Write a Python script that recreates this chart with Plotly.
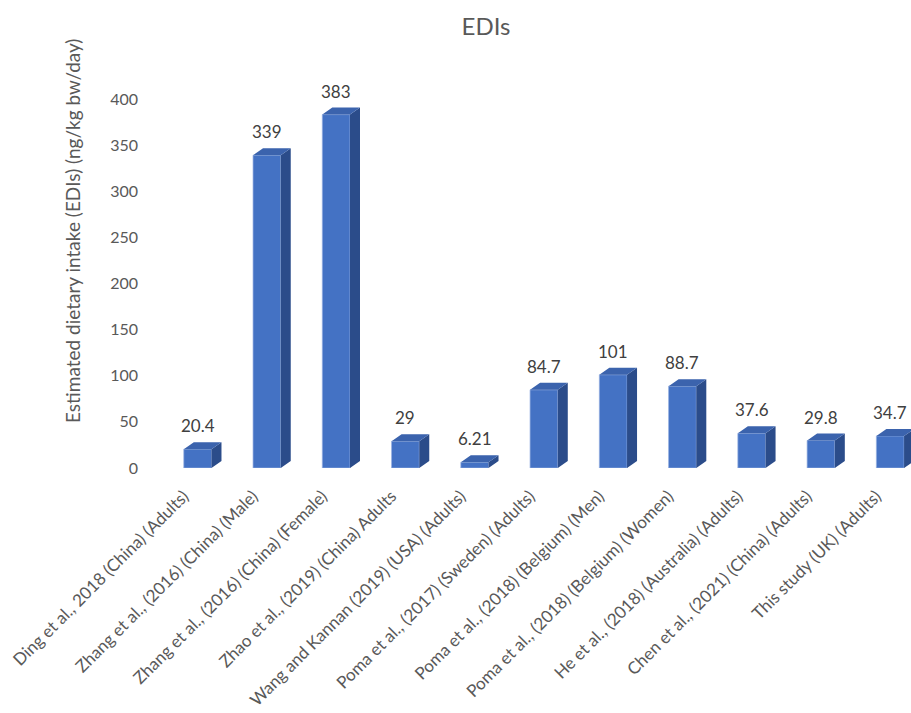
import plotly.graph_objects as go

# Studies and their estimated dietary intakes (ng/kg bw/day)
studies = [
    "Ding et al., 2018 (China) (Adults)",
    "Zhang et al., (2016) (China) (Male)",
    "Zhang et al., (2016) (China) (Female)",
    "Zhao et al., (2019) (China) Adults",
    "Wang and Kannan (2019) (USA) (Adults)",
    "Poma et al., (2017) (Sweden) (Adults)",
    "Poma et al., (2018) (Belgium) (Men)",
    "Poma et al., (2018) (Belgium) (Women)",
    "He et al., (2018) (Australia) (Adults)",
    "Chen et al., (2021) (China) (Adults)",
    "This study (UK) (Adults)",
]
edi_values = [20.4, 339, 383, 29, 6.21, 84.7, 101, 88.7, 37.6, 29.8, 34.7]
value_labels = ["20.4", "339", "383", "29", "6.21", "84.7", "101", "88.7", "37.6", "29.8", "34.7"]
y_ticks = [0, 50, 100, 150, 200, 250, 300, 350, 400]

FONT = "Lato"
FRONT = "#4472C4"
TOP = "#3B63AD"
SIDE = "#2B4C8A"

W = 911
H = 713
M_LEFT, M_RIGHT, M_TOP, M_BOT = 163, 0, 62, 245
Y_MAX = 440
X_MIN, X_MAX = -0.5, 10.3

px_per_cat = (W - M_LEFT - M_RIGHT) / (X_MAX - X_MIN)
px_per_unit = (H - M_TOP - M_BOT) / Y_MAX

bar_w = 0.4                      # front face width (category units)
dx = 10 / px_per_cat             # depth offset to the right
dy = 7 / px_per_unit             # depth offset upwards

xs = list(range(len(studies)))

# Side and top faces of the 3D columns, built from the data values
side_x, side_y, top_x, top_y = [], [], [], []
for i, v in zip(xs, edi_values):
    r = i + bar_w / 2
    l = i - bar_w / 2
    side_x += [r, r + dx, r + dx, r, r, None]
    side_y += [0, dy, v + dy, v, 0, None]
    top_x += [l, r, r + dx, l + dx, l, None]
    top_y += [v, v, v + dy, v + dy, v, None]

fig = go.Figure()
fig.add_trace(go.Bar(
    x=xs, y=edi_values, width=bar_w,
    marker=dict(color=FRONT, line=dict(color="rgba(150,175,225,0.7)", width=1)),
    hoverinfo="skip",
))
fig.add_trace(go.Scatter(
    x=side_x, y=side_y, mode="lines", fill="toself",
    fillcolor=SIDE, line=dict(width=0, color=SIDE), hoverinfo="skip",
))
fig.add_trace(go.Scatter(
    x=top_x, y=top_y, mode="lines", fill="toself",
    fillcolor=TOP, line=dict(width=0, color=TOP), hoverinfo="skip",
))

for i, v, t in zip(xs, edi_values, value_labels):
    fig.add_annotation(
        x=i, y=v, text=t, showarrow=False, yanchor="bottom", yshift=11,
        font=dict(family=FONT, size=17, color="#404040"),
    )

fig.add_annotation(
    text="Estimated dietary intake (EDIs) (ng/kg bw/day)",
    xref="paper", yref="paper",
    x=(72 - M_LEFT) / (W - M_LEFT - M_RIGHT),
    y=(H - M_BOT - 231) / (H - M_TOP - M_BOT),
    textangle=-90, showarrow=False, xanchor="center", yanchor="middle",
    font=dict(family=FONT, size=19, color="#595959"),
)

fig.update_layout(
    width=W, height=H,
    margin=dict(l=M_LEFT, r=M_RIGHT, t=M_TOP, b=M_BOT, autoexpand=False),
    paper_bgcolor="white", plot_bgcolor="white",
    showlegend=False,
    title=dict(
        text="EDIs", x=486 / W, xanchor="center", xref="container",
        y=1 - 27 / H, yanchor="middle", yref="container",
        font=dict(family=FONT, size=24, color="#595959"),
    ),
    xaxis=dict(
        range=[X_MIN, X_MAX], tickmode="array", tickvals=xs, ticktext=studies,
        tickangle=-45, showgrid=False, zeroline=False, showline=False,
        ticks="", automargin=False,
        ticklabelstandoff=14, ticklabelshift=-14,
        tickfont=dict(family=FONT, size=17, color="#595959"),
    ),
    yaxis=dict(
        range=[0, Y_MAX], tickmode="array", tickvals=y_ticks,
        showgrid=False, zeroline=False, showline=False, ticks="",
        ticklabelstandoff=24, automargin=False,
        tickfont=dict(family=FONT, size=16, color="#595959"),
    ),
)

fig.write_html("out.html")
